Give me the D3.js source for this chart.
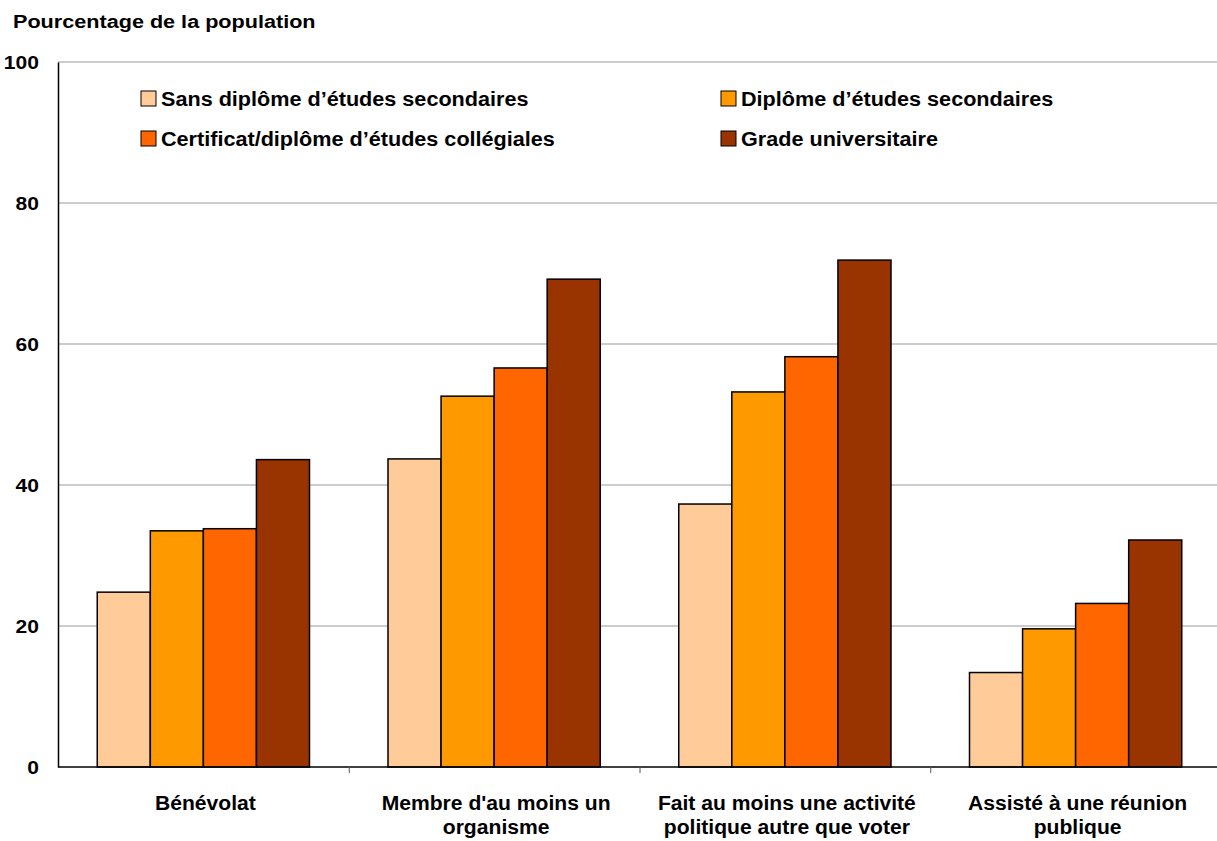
<!DOCTYPE html>
<html>
<head>
<meta charset="utf-8">
<script src="https://cdn.jsdelivr.net/npm/d3@7"></script>
<style>
  body { margin: 0; background: #fff; }
  svg { display: block; font-family: "Liberation Sans", Arial, sans-serif; }
</style>
</head>
<body>
<svg id="chart" width="1217" height="841"></svg>
<script>
// Participation by highest level of education
const categories = [
  ["Bénévolat"],
  ["Membre d'au moins un", "organisme"],
  ["Fait au moins une activité", "politique autre que voter"],
  ["Assisté à une réunion", "publique"]
];
const seriesNames = [
  "Sans diplôme d’études secondaires",
  "Diplôme d’études secondaires",
  "Certificat/diplôme d’études collégiales",
  "Grade universitaire"
];
const sansDiplome = [24.8, 43.7, 37.3, 13.4];
const diplomeSecondaires = [33.5, 52.6, 53.2, 19.6];
const collegial = [33.8, 56.6, 58.2, 23.2];
const universitaire = [43.6, 69.2, 71.9, 32.2];
const yTicks = [0, 20, 40, 60, 80, 100];
const colors = ["#FFCC99", "#FF9900", "#FF6600", "#993300"];

const series = [sansDiplome, diplomeSecondaires, collegial, universitaire];

const svg = d3.select("#chart");
const plotLeft = 58, plotRight = 1221, plotTop = 62, plotBottom = 767;

const y = d3.scaleLinear().domain([0, 100]).range([plotBottom, plotTop]);
const x0 = d3.scaleBand().domain(d3.range(categories.length)).range([plotLeft, plotRight]).paddingInner(0).paddingOuter(0);
const groupInner = 0.73;
const x1 = d3.scaleBand().domain(d3.range(series.length))
  .range([0, x0.bandwidth() * groupInner]);
const groupOffset = x0.bandwidth() * (1 - groupInner) / 2;

// title (slightly wide lettering)
svg.append("text")
  .attr("transform", "translate(13,27.5) scale(1.15,1)")
  .attr("font-size", 18.8).attr("font-weight", "bold").attr("fill", "#000")
  .text("Pourcentage de la population");

// gridlines
svg.append("g").selectAll("line").data(yTicks.filter(t => t > 0)).join("line")
  .attr("x1", plotLeft).attr("x2", plotRight)
  .attr("y1", d => y(d)).attr("y2", d => y(d))
  .attr("stroke", "#9a9a9a").attr("stroke-width", 1);

// y axis
const yAxis = svg.append("g").attr("transform", `translate(${plotLeft},0)`)
  .call(d3.axisLeft(y).tickValues(yTicks).tickSize(0).tickPadding(17));
yAxis.select(".domain").attr("stroke", "#000").attr("stroke-width", 1.5);
yAxis.selectAll(".tick text")
  .attr("font-size", 18.8).attr("font-weight", "bold")
  .attr("fill", "#000").attr("font-family", "Liberation Sans, Arial, sans-serif")
  .attr("transform", "scale(1.12,1)");

// bars
const groups = svg.append("g").selectAll("g").data(categories).join("g")
  .attr("transform", (d, i) => `translate(${x0(i) + groupOffset},0)`);
groups.selectAll("rect")
  .data((d, i) => series.map((s, k) => ({ k, v: s[i] })))
  .join("rect")
  .attr("x", d => x1(d.k))
  .attr("width", x1.bandwidth())
  .attr("y", d => y(d.v))
  .attr("height", d => y(0) - y(d.v))
  .attr("fill", d => colors[d.k])
  .attr("stroke", "#000").attr("stroke-width", 1.5);

// x axis with separators between groups
const xAxisScale = d3.scaleLinear().domain([0, categories.length]).range([plotLeft, plotRight]);
const xAxis = svg.append("g").attr("transform", `translate(0,${plotBottom})`)
  .call(d3.axisBottom(xAxisScale).tickValues(d3.range(1, categories.length)).tickSize(6).tickFormat(""));
xAxis.select(".domain").attr("stroke", "#000").attr("stroke-width", 1.5).attr("d", `M${plotLeft},0H${plotRight}`);
xAxis.selectAll(".tick line").attr("stroke", "#555");

// category labels
const catLabels = svg.append("g").selectAll("text").data(categories).join("text")
  .attr("transform", (d, i) => `translate(${x0(i) + x0.bandwidth() / 2 + 2},810) scale(1.03,1)`)
  .attr("text-anchor", "middle").attr("font-size", 20.5).attr("font-weight", "bold").attr("fill", "#000");
catLabels.selectAll("tspan").data(d => d).join("tspan")
  .attr("x", 0)
  .attr("y", (d, i) => i * 24.5)
  .text(d => d);

// legend
const legendPos = [[141, 98.5], [721, 98.5], [141, 138.5], [721, 138.5]];
const legend = svg.append("g").selectAll("g").data(seriesNames).join("g")
  .attr("transform", (d, i) => `translate(${legendPos[i][0]},${legendPos[i][1]})`);
legend.append("rect").attr("x", 0).attr("y", -7.5).attr("width", 15).attr("height", 15)
  .attr("fill", (d, i) => colors[i]).attr("stroke", "#000").attr("stroke-width", 1);
legend.append("text")
  .attr("transform", "translate(20,7) scale(1.03,1)")
  .attr("font-size", 21).attr("font-weight", "bold").attr("fill", "#000")
  .text(d => d);
</script>
</body>
</html>
